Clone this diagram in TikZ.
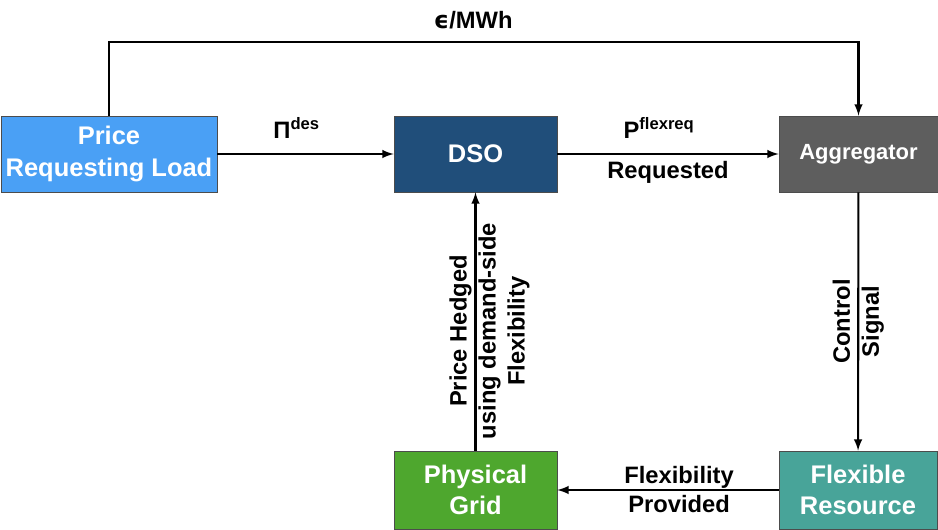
\documentclass[tikz,border=0pt]{standalone}
\usepackage{fontspec}
\setmainfont{Liberation Sans}
\newfontfamily\epsfont{DejaVu Sans}
\usetikzlibrary{arrows, positioning}

\definecolor{loadblue}{RGB}{74,160,245}
\definecolor{dsoblue}{RGB}{32,78,122}
\definecolor{agggray}{RGB}{94,94,94}
\definecolor{gridgreen}{RGB}{78,167,46}
\definecolor{flexteal}{RGB}{72,164,153}

\begin{document}
\begin{tikzpicture}[x=0.02cm, y=-0.02cm, >=latex, line width=1.2pt,
    block/.style={rectangle, draw=black!70, line width=0.5pt, text=white, align=center, inner sep=0pt,
        font=\bfseries\fontsize{14.5}{18}\selectfont, minimum height=1.52cm},
    lbl/.style={font=\bfseries\fontsize{13.5}{16.5}\selectfont, align=center}]
        \useasboundingbox (0,0) rectangle (938,530);

        \node[block, fill=loadblue, minimum width=4.32cm] (load) at (109,154) {Price\\Requesting Load};
        \node[block, fill=dsoblue, minimum width=3.26cm] (dso) at (475.5,154) {DSO};
        \node[block, fill=agggray, minimum width=3.18cm, font=\bfseries\fontsize{12.5}{14}\selectfont] (agg) at (858.5,154) {Aggregator};
        \node[block, fill=gridgreen, minimum width=3.26cm, minimum height=1.56cm] (grid) at (475.5,490) {Physical\\Grid};
        \node[block, fill=flexteal, minimum width=3.16cm, minimum height=1.56cm] (flex) at (858,490) {Flexible\\Resource};

        \draw[->] (load.north) -- ++(0,-74) -| node[lbl, pos=0.243, above=3pt] {{\epsfont ϵ}/MWh} (agg.north);
        \draw[->] (load) -- node[lbl, pos=0.45, above=5pt] {Π\textsuperscript{des}} (dso);
        \draw[->] (dso) -- node[lbl, pos=0.46, above=5pt] {P\textsuperscript{flexreq}} node[lbl, below=0pt] {Requested} (agg);
        \draw[->] (agg) -- node[lbl, rotate=90] {Control\\Signal} (flex);
        \draw[->] (flex) -- node[lbl, pos=0.45] {Flexibility\\Provided} (grid);
        \draw[->] (grid) -- node[lbl, pos=0.463, rotate=90, yshift=-8pt] {Price Hedged\\using demand-side\\Flexibility} (dso);
    \end{tikzpicture}
\end{document}
